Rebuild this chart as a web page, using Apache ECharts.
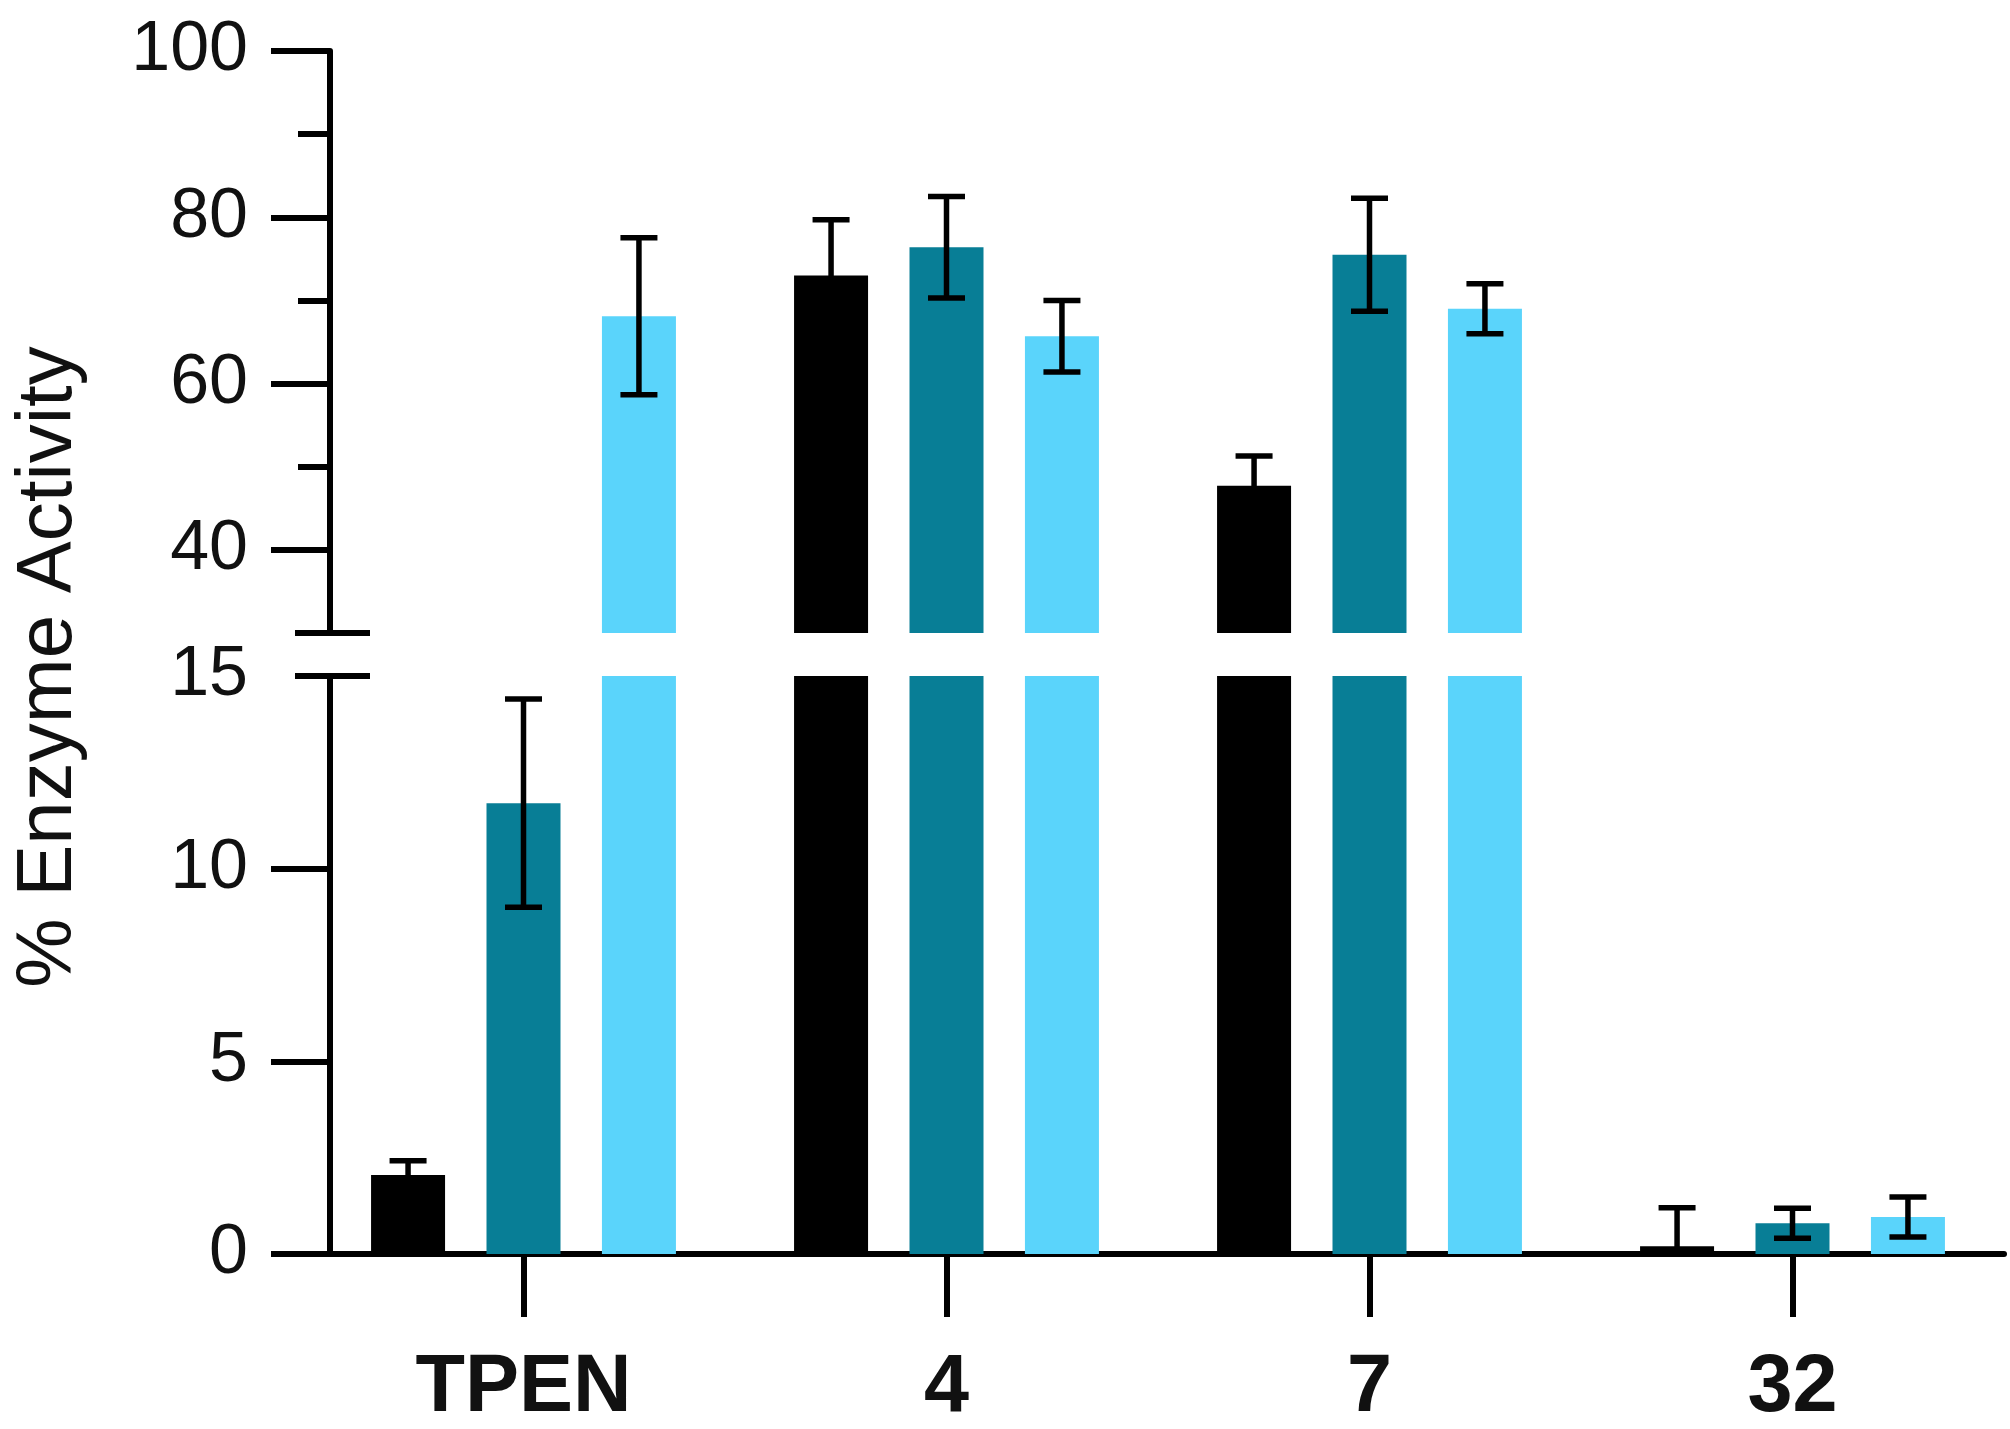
<!DOCTYPE html>
<html><head><meta charset="utf-8">
<script src="https://cdn.jsdelivr.net/npm/echarts@6/dist/echarts.min.js"></script>
<style>html,body{margin:0;padding:0;background:#fff}#c{width:2010px;height:1429px}</style>
</head><body><div id="c"></div>
<script>
// ---- data ----
const categories = ['TPEN', '4', '7', '32'];
const valuesBlack = [2.05, 73.0, 47.7, 0.2];
const errorsBlack = [0.37, 6.7, 3.6, 1.0];
const valuesTeal = [11.7, 76.4, 75.5, 0.8];
const errorsTeal = [2.7, 6.1, 6.8, 0.39];
const valuesLight = [68.1, 65.7, 69.0, 0.96];
const errorsLight = [9.45, 4.3, 3.0, 0.52];
const upperRange = [30, 100];
const lowerRange = [0, 15];
const upperMajorTicks = [40, 60, 80, 100];
const upperMinorTicks = [50, 70, 90];
const lowerMajorTicks = [0, 5, 10];
const lowerTickLabels = [0, 5, 10, 15];
const yTitle = '% Enzyme Activity';

// ---- style ----
const FONT = "'Liberation Sans', Arial, sans-serif";
const colors = ['#000000', '#087e96', '#5ad4fb'];
const BAR_W = 74, BAR_GAP = 0.56, CAP_W = 37, LW = 5.5, AXW = 6;
const PITCH = BAR_W * (1 + BAR_GAP);
const AX = { color: '#000', width: AXW };
const GL = 312, GW = 1692, YOFF = -18;

const seriesVals = [valuesBlack, valuesTeal, valuesLight];
const seriesErrs = [errorsBlack, errorsTeal, errorsLight];

function tickAxis(grid, range, values, len, inside, showLine, labels) {
  return {
    type: 'value', gridIndex: grid, position: 'left', min: range[0], max: range[1], offset: YOFF,
    axisLine: { show: showLine, lineStyle: AX },
    axisTick: { show: true, inside: inside, length: len, customValues: values, lineStyle: AX },
    axisLabel: labels ? { show: true, customValues: labels, fontSize: 70, color: '#111', fontFamily: FONT, margin: 82 } : { show: false },
    splitLine: { show: false }
  };
}

const yAxes = [
  tickAxis(0, upperRange, upperMajorTicks, 59, false, true, upperMajorTicks), // 0
  tickAxis(0, upperRange, upperMinorTicks, 32, false, false, null),           // 1
  tickAxis(0, upperRange, [upperRange[0]], 35, false, false, null),           // 2 break out
  tickAxis(0, upperRange, [upperRange[0]], 40, true, false, null),            // 3 break in
  tickAxis(1, lowerRange, lowerMajorTicks, 59, false, true, lowerTickLabels), // 4
  tickAxis(1, lowerRange, [lowerRange[1]], 35, false, false, null),           // 5
  tickAxis(1, lowerRange, [lowerRange[1]], 40, true, false, null)             // 6
];

const series = [];
[[0, 0, upperRange], [1, 4, lowerRange]].forEach(([gi, yi, range]) => {
  seriesVals.forEach((vals, k) => {
    series.push({
      type: 'bar', xAxisIndex: gi, yAxisIndex: yi, data: vals,
      barWidth: BAR_W, barGap: (BAR_GAP * 100) + '%',
      itemStyle: { color: colors[k] }, clip: true, z: 2
    });
  });
  seriesVals.forEach((vals, k) => {
    const errs = seriesErrs[k];
    series.push({
      type: 'custom', xAxisIndex: gi, yAxisIndex: yi, clip: true, z: 5,
      data: vals.map((v, i) => [i, v, errs[i]]),
      encode: { x: 0, y: 1 },
      renderItem: function (params, api) {
        const i = api.value(0), v = api.value(1), e = api.value(2);
        if (v < range[0] || v > range[1]) return null;
        const hi = api.coord([i, v + e]);
        const lo = api.coord([i, v - e]);
        const x = hi[0] + (k - 1) * PITCH;
        const h = CAP_W / 2;
        const st = { stroke: '#000', lineWidth: LW };
        return { type: 'group', children: [
          { type: 'line', shape: { x1: x, y1: hi[1], x2: x, y2: lo[1] }, style: st },
          { type: 'line', shape: { x1: x - h, y1: hi[1], x2: x + h, y2: hi[1] }, style: st },
          { type: 'line', shape: { x1: x - h, y1: lo[1], x2: x + h, y2: lo[1] }, style: st }
        ]};
      }
    });
  });
});

const chart = echarts.init(document.getElementById('c'));
chart.setOption({
  animation: false,
  backgroundColor: '#fff',
  grid: [
    { left: GL, width: GW, top: 51, height: 582 },
    { left: GL, width: GW, top: 676, height: 578 }
  ],
  xAxis: [
    { type: 'category', gridIndex: 0, data: categories, show: false },
    { type: 'category', gridIndex: 1, data: categories, position: 'bottom',
      axisLine: { show: true, lineStyle: AX },
      axisTick: { show: true, interval: 0, alignWithLabel: true, length: 63, lineStyle: AX },
      axisLabel: { fontSize: 81, fontWeight: 'bold', color: '#111', fontFamily: FONT, margin: 94, interval: 0 } }
  ],
  yAxis: yAxes,
  graphic: [{
    type: 'text', x: 49, y: 667, rotation: Math.PI / 2,
    style: { text: yTitle, fontSize: 78, fill: '#111', fontFamily: FONT, align: 'center', verticalAlign: 'middle' }
  }],
  series: series
});
</script></body></html>
